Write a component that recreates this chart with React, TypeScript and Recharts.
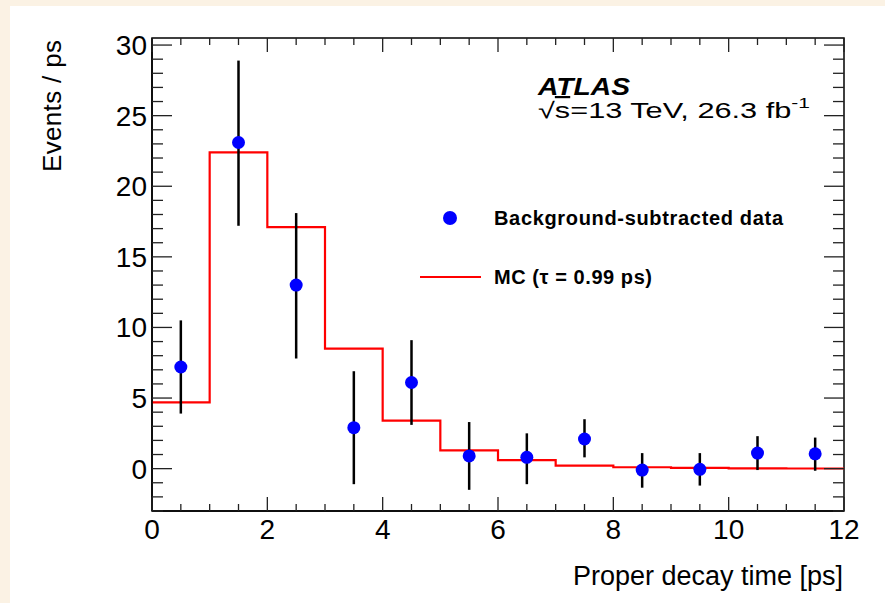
import {
  ComposedChart, Line, Scatter, ErrorBar, XAxis, YAxis, ReferenceArea,
} from 'recharts';

// bin centres of the measured points
const binCenters = [0.5, 1.5, 2.5, 3.5, 4.5, 5.5, 6.5, 7.5, 8.5, 9.5, 10.5, 11.5];
const dataValues = [7.2, 23.1, 13.0, 2.9, 6.1, 0.9, 0.8, 2.1, -0.1, -0.05, 1.1, 1.05];
const errLow = [3.9, 17.2, 7.8, -1.1, 3.1, -1.5, -1.1, 0.8, -1.35, -1.2, -0.1, -0.15];
const errHigh = [10.5, 28.9, 18.1, 6.9, 9.1, 3.3, 2.5, 3.5, 1.1, 1.1, 2.3, 2.2];

// MC histogram, one value per 1 ps bin (edges 0..12)
const binEdges = [0, 1, 2, 3, 4, 5, 6, 7, 8, 9, 10, 11, 12];
const mcValues = [4.7, 22.4, 17.1, 8.5, 3.4, 1.3, 0.6, 0.22, 0.1, 0.05, 0.02, 0.01];

const xTicks = [0, 0.5, 1, 1.5, 2, 2.5, 3, 3.5, 4, 4.5, 5, 5.5, 6, 6.5, 7, 7.5, 8, 8.5, 9, 9.5, 10, 10.5, 11, 11.5, 12];
const yTicks = [-3, -2, -1, 0, 1, 2, 3, 4, 5, 6, 7, 8, 9, 10, 11, 12, 13, 14, 15, 16, 17, 18, 19, 20,
  21, 22, 23, 24, 25, 26, 27, 28, 29, 30];

const points = binCenters.map((x, i) => ({
  x,
  y: dataValues[i],
  err: [dataValues[i] - errLow[i], errHigh[i] - dataValues[i]],
}));

// last value repeated at the right edge so the step closes the final bin
const mcData = binEdges.map((x, i) => ({ x, mc: mcValues[Math.min(i, mcValues.length - 1)] }));

const FONT = '"Liberation Sans", Arial, Helvetica, sans-serif';
const W = 885;
const H = 603;
const PLOT = { left: 152, right: 844, top: 38, bottom: 511 };

const XTick = ({ x, payload }: any) => {
  const v = payload.value;
  const major = v % 2 === 0;
  const len = major ? 14 : 7;
  return (
    <g>
      <line x1={x} x2={x} y1={PLOT.bottom} y2={PLOT.bottom - len} stroke="#222" strokeWidth={1.3} />
      <line x1={x} x2={x} y1={PLOT.top} y2={PLOT.top + len} stroke="#222" strokeWidth={1.3} />
      {major && (
        <text x={x} y={539} textAnchor="middle" fontSize={28} fontFamily={FONT} fill="#000">
          {v}
        </text>
      )}
    </g>
  );
};

const YTick = ({ y, payload }: any) => {
  const v = payload.value;
  const major = v % 5 === 0;
  const len = major ? 20 : 11;
  return (
    <g>
      <line x1={PLOT.left} x2={PLOT.left + len} y1={y} y2={y} stroke="#222" strokeWidth={1.3} />
      <line x1={PLOT.right} x2={PLOT.right - len} y1={y} y2={y} stroke="#222" strokeWidth={1.3} />
      {major && (
        <text x={147} y={y + 10} textAnchor="end" fontSize={28} fontFamily={FONT} fill="#000">
          {v}
        </text>
      )}
    </g>
  );
};

export default function App() {
  return (
    <div style={{ position: 'absolute', left: 0, top: 0, width: W, height: H, background: '#fbf2e4' }}>
      <div style={{ position: 'absolute', left: 10, top: 6, right: 0, bottom: 0, background: '#fff' }} />
      <div style={{ position: 'absolute', left: 0, top: 0 }}>
        <ComposedChart
          width={W}
          height={H}
          margin={{ top: PLOT.top, right: W - PLOT.right, bottom: 52, left: PLOT.left - 60 }}
        >
          <XAxis
            dataKey="x"
            type="number"
            domain={[0, 12]}
            ticks={xTicks}
            interval={0}
            allowDataOverflow
            height={40}
            tickLine={false}
            tickSize={0}
            tickMargin={0}
            axisLine={{ stroke: '#000', strokeWidth: 1.5 }}
            tick={<XTick />}
          />
          <YAxis
            type="number"
            domain={[-3, 30.5]}
            ticks={yTicks}
            interval={0}
            allowDataOverflow
            width={60}
            tickLine={false}
            tickSize={0}
            tickMargin={0}
            axisLine={{ stroke: '#000', strokeWidth: 1.5 }}
            tick={<YTick />}
          />
          <ReferenceArea x1={0} x2={12} y1={-3} y2={30.5} fill="none" stroke="#000" strokeWidth={1.5} />
          <Line
            data={mcData}
            dataKey="mc"
            type="stepAfter"
            stroke="#ff0000"
            strokeWidth={2.2}
            dot={false}
            isAnimationActive={false}
          />
          <Scatter data={points} dataKey="y" shape={() => <g />} isAnimationActive={false}>
            <ErrorBar dataKey="err" direction="y" width={0} stroke="#000" strokeWidth={2.5} />
          </Scatter>
          <Scatter
            data={points}
            dataKey="y"
            isAnimationActive={false}
            shape={(p: any) => <circle cx={p.cx} cy={p.cy} r={6.5} fill="#0000ff" />}
          />
          {/* legend */}
          <circle cx={450} cy={218} r={7} fill="#0000ff" />
          <text x={494} y={225} fontSize={20} fontWeight="bold" fontFamily={FONT} fill="#000" textLength={289}>
            Background-subtracted data
          </text>
          <line x1={420} x2={481} y1={277} y2={277} stroke="#ff0000" strokeWidth={2} />
          <text x={494} y={284} fontSize={20} fontWeight="bold" fontFamily={FONT} fill="#000" textLength={158}>
            MC (τ = 0.99 ps)
          </text>
          <text
            x={538}
            y={95}
            fontSize={24}
            fontWeight="bold"
            fontStyle="italic"
            fontFamily={FONT}
            fill="#000"
            textLength={92}
            lengthAdjust="spacingAndGlyphs"
          >
            ATLAS
          </text>
          <text x={538} y={118} fontSize={22} fontFamily={FONT} fill="#000" textLength={272} lengthAdjust="spacingAndGlyphs">
            √<tspan style={{ textDecoration: 'overline' }}>s</tspan>=13 TeV, 26.3 fb
            <tspan dy={-10} fontSize={15}>-1</tspan>
          </text>
          <text
            x={61}
            y={40}
            transform="rotate(-90, 61, 40)"
            textAnchor="end"
            fontSize={26}
            fontFamily={FONT}
            fill="#000"
            textLength={132}
          >
            Events / ps
          </text>
          <text x={843} y={585} textAnchor="end" fontSize={27} fontFamily={FONT} fill="#000">
            Proper decay time [ps]
          </text>
        </ComposedChart>
      </div>
    </div>
  );
}
